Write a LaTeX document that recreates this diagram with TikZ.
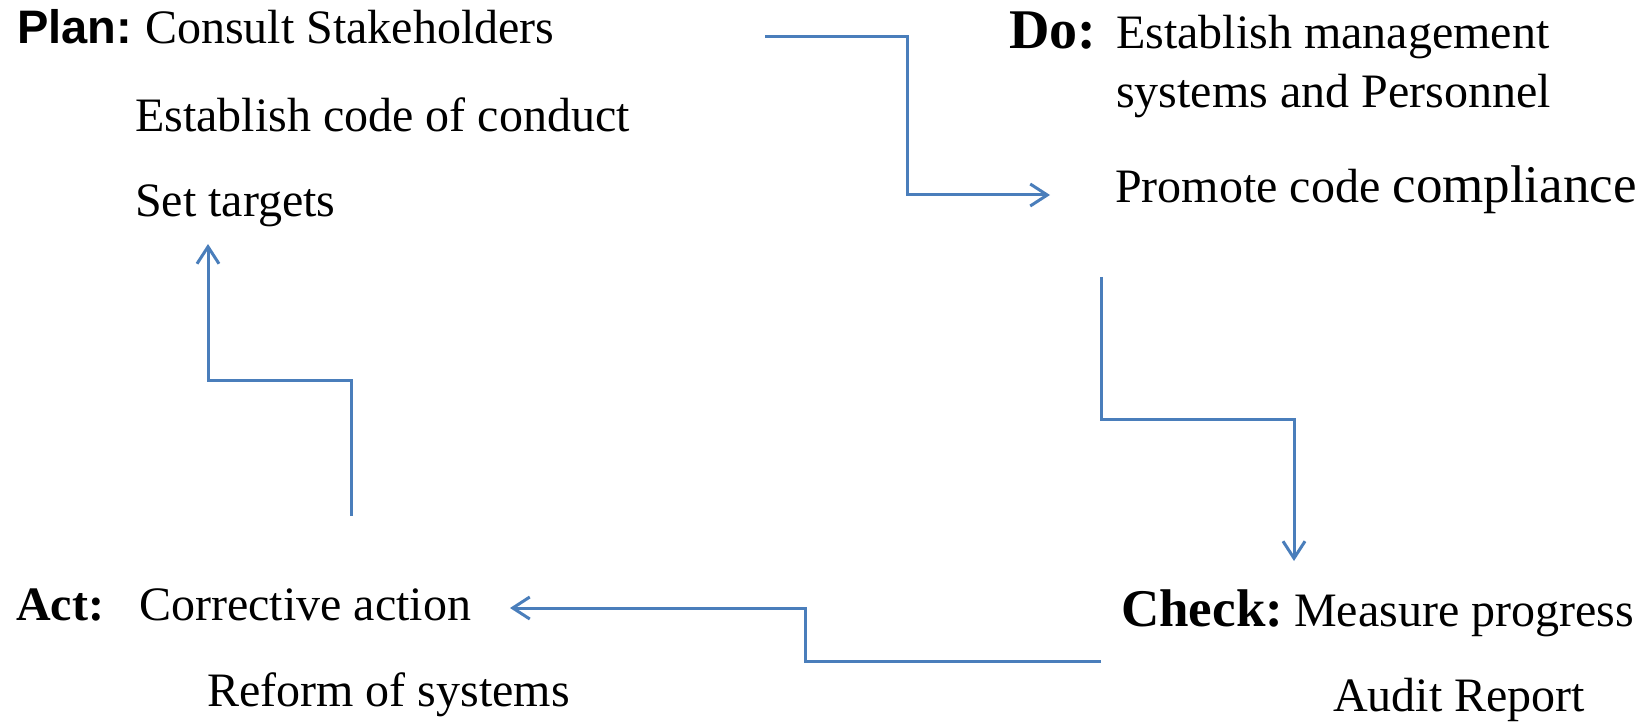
\documentclass[tikz,border=0pt]{standalone}
\usepackage{fontspec}
\setmainfont{Liberation Serif}
\newfontfamily\arialfont{Liberation Sans}
\usetikzlibrary{arrows.meta,calc}
\definecolor{linkblue}{HTML}{4A7EBB}
\tikzset{
  txt/.style={anchor=base west, inner sep=0pt, font=\fontsize{48}{56}\selectfont},
  headsans/.style={anchor=base west, inner sep=0pt, font=\arialfont\bfseries\fontsize{47}{56}\selectfont},
  headserif/.style={anchor=base west, inner sep=0pt, font=\bfseries\fontsize{#1}{60}\selectfont},
  link/.style={draw=linkblue, line width=3pt, -{Straight Barb[length=17pt,width=22pt,line width=3pt]}}
}
\begin{document}
\begin{tikzpicture}[x=1pt,y=-1pt]
\useasboundingbox (0,0) rectangle (1650,722);
% Plan
\node[headsans] (planh) at (17,44) {Plan:};
\node[txt] (plan1) at (145,44) {Consult Stakeholders};
\node[txt] (plan2) at (135,132) {Establish code of conduct};
\node[txt] (plan3) at (135,217) {Set targets};
% Do
\node[headserif=56] (doh) at (1009,49) {Do:};
\node[txt] (do1) at (1116,49) {Establish management};
\node[txt] (do2) at (1116,108) {systems and Personnel};
\node[txt] (do3) at (1115,203) {Promote code {\fontsize{53}{60}\selectfont compliance}};
% Check
\node[headserif=53] (checkh) at (1121,626) {Check:};
\node[txt] (check1) at (1294,626) {Measure progress};
\node[txt] (check2) at (1333,711) {Audit Report};
% Act
\node[headserif=48] (acth) at (16,620) {Act:};
\node[txt] (act1) at (139,620) {Corrective action};
\node[txt] (act2) at (207,706) {Reform of systems};
% connector end points
\coordinate (a1s) at (765,37);
\coordinate (a1e) at (1050,195);
\coordinate (a2s) at (1101,277);
\coordinate (a2e) at (1294,561);
\coordinate (a3s) at (1101,661);
\coordinate (a3e) at (510,608);
\coordinate (a4s) at (351,516);
\coordinate (a4e) at (208,244);
% connectors
\draw[link] (a1s) -| ($(a1s)!.5!(a1e)$) |- (a1e);
\draw[link] (a2s) |- ($(a2s)!.5!(a2e)$) -| (a2e);
\draw[link] (a3s) -| ($(a3s)!.5!(a3e)$) |- (a3e);
\draw[link] (a4s) |- ($(a4s)!.5!(a4e)$) -| (a4e);
\end{tikzpicture}
\end{document}
